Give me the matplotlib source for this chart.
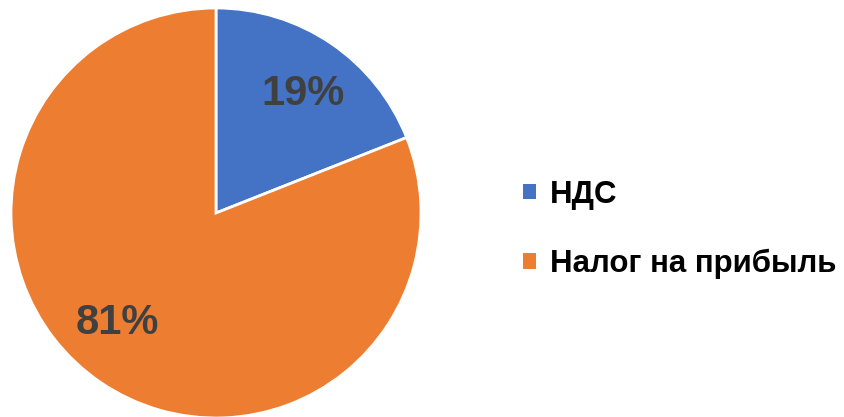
import matplotlib
matplotlib.use("Agg")
import matplotlib.pyplot as plt
from matplotlib.patches import Patch
import numpy as np

categories = ["НДС", "Налог на прибыль"]
values = [19, 81]
colors = ["#4472C4", "#ED7D31"]

plt.rcParams['font.family'] = ['Liberation Sans', 'DejaVu Sans']

fig = plt.figure(figsize=(8.45, 4.17), dpi=100)
ax = fig.add_axes([(216 - 205) / 845, (417 - 213 - 205) / 417, 410 / 845, 410 / 417])
wedges, texts, autotexts = ax.pie(
    values, colors=colors, startangle=90, counterclock=False,
    autopct=lambda p: f"{p:.0f}%", pctdistance=0.72,
    wedgeprops=dict(edgecolor="white", linewidth=2),
    textprops=dict(color="#404040", fontsize=30, fontweight="bold"))

# slight label placement adjustment (degrees) to mimic the reference layout
label_shift = [-2.0, -7.5]
for w, t, s in zip(wedges, autotexts, label_shift):
    ang = np.deg2rad((w.theta1 + w.theta2) / 2 + s)
    t.set_position((0.72 * np.cos(ang), 0.72 * np.sin(ang)))

ax.set_aspect("equal")
ax.set_xlim(-1, 1)
ax.set_ylim(-1, 1)

handles = [Patch(facecolor=c, edgecolor="none") for c in colors]
fig.legend(handles, categories, loc="center left", bbox_to_anchor=(0.586, 0.450),
           frameon=False, handlelength=0.4, handleheight=0.4, handletextpad=0.45,
           labelspacing=1.25, prop=dict(size=22.5, weight="bold"), labelcolor="black")

fig.savefig("out.png", dpi=100)
